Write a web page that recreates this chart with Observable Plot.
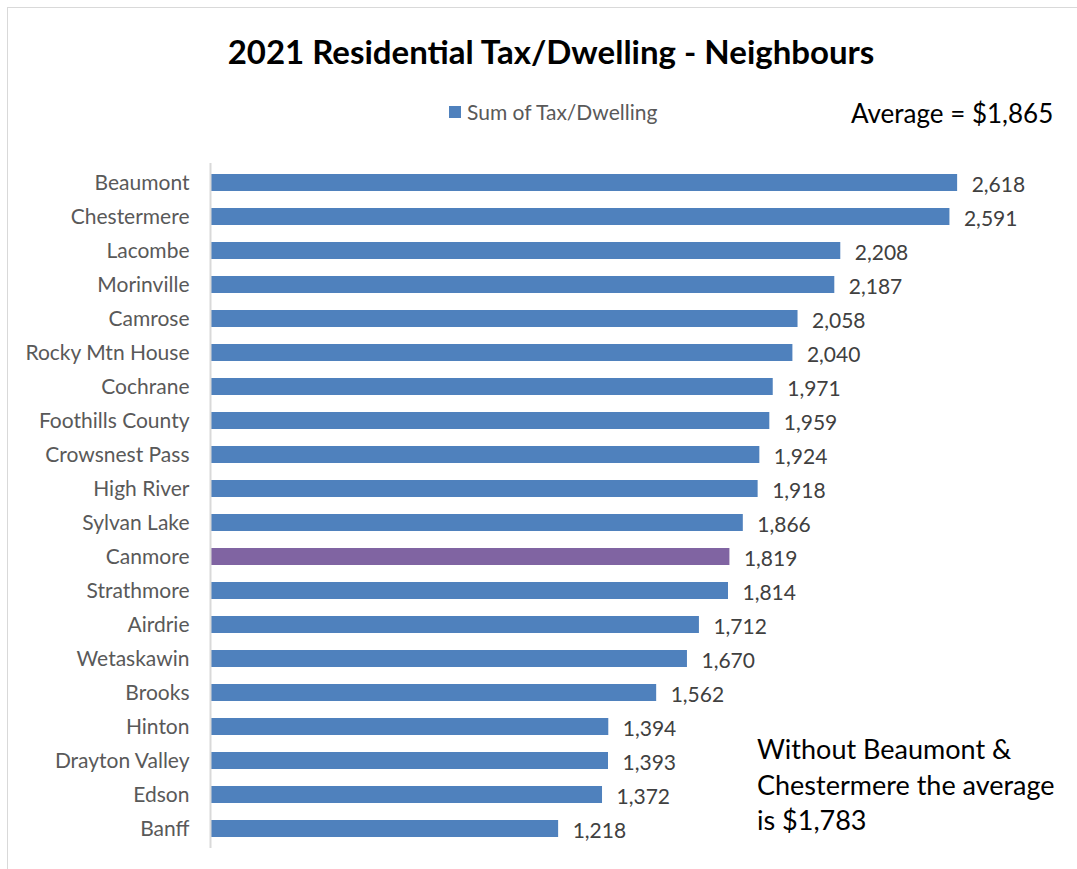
<!DOCTYPE html>
<html>
<head>
<meta charset="utf-8">
<script src="https://cdn.jsdelivr.net/npm/d3@7"></script>
<script src="https://cdn.jsdelivr.net/npm/@observablehq/plot@0.6"></script>
<style>
  html, body { margin: 0; padding: 0; background: #fff; }
  #wrap { position: relative; width: 1077px; height: 869px; overflow: hidden; font-family: Lato, "Open Sans", sans-serif; }
  #frame { position: absolute; left: 7px; top: 7px; width: 1200px; height: 1000px; border-top: 1px solid #d9d9d9; border-left: 1px solid #d9d9d9; }
  #header { position: relative; height: 140px; }
  #title { position: absolute; left: 0; width: 1102px; top: 31px; text-align: center; font-weight: bold; font-size: 33px; color: #000; white-space: nowrap; }
  #legend { position: absolute; left: 449px; top: 99px; font-size: 21px; color: #595959; display: flex; align-items: center; white-space: nowrap; }
  #legend .sw { width: 12px; height: 12px; background: #4f81bd; margin-right: 6px; }
  #avg { position: absolute; left: 851px; top: 97px; font-size: 26px; color: #000; white-space: nowrap; }
  #note { position: absolute; left: 757px; top: 731px; font-size: 27px; line-height: 35.5px; color: #000; white-space: nowrap; }
  #chart { position: absolute; left: 0; top: 140px; }
</style>
</head>
<body>
<div id="wrap">
  <div id="frame"></div>
  <div id="header">
    <div id="title">2021 Residential Tax/Dwelling - Neighbours</div>
    <div id="legend"><span class="sw"></span><span>Sum of Tax/Dwelling</span></div>
    <div id="avg">Average = $1,865</div>
  </div>
  <div id="chart"></div>
  <div id="note">Without Beaumont &amp;<br>Chestermere the average<br>is $1,783</div>
</div>
<script>
const towns = ["Beaumont", "Chestermere", "Lacombe", "Morinville", "Camrose", "Rocky Mtn House", "Cochrane", "Foothills County", "Crowsnest Pass", "High River", "Sylvan Lake", "Canmore", "Strathmore", "Airdrie", "Wetaskawin", "Brooks", "Hinton", "Drayton Valley", "Edson", "Banff"];
const taxPerDwelling = [2618, 2591, 2208, 2187, 2058, 2040, 1971, 1959, 1924, 1918, 1866, 1819, 1814, 1712, 1670, 1562, 1394, 1393, 1372, 1218];
const highlighted = ["Canmore"];
const xMax = 3000;

const data = towns.map((t, i) => ({town: t, value: taxPerDwelling[i]}));

const plot = Plot.plot({
  width: 1077,
  height: 729,
  marginTop: 23,
  marginBottom: 21,
  marginLeft: 211,
  marginRight: 11,
  style: {fontFamily: "Lato, 'Open Sans', sans-serif", fontSize: "21px", background: "transparent"},
  x: {domain: [0, xMax], axis: null},
  y: {domain: towns, paddingInner: 0.5, paddingOuter: 0.25, label: null, axis: null},
  marks: [
    Plot.barX(data, {
      y: "town", x: "value",
      fill: d => highlighted.includes(d.town) ? "#8064a2" : "#4f81bd"
    }),
    Plot.ruleX([0], {stroke: "#d9d9d9", strokeWidth: 2, dx: -1}),
    Plot.text(data, {
      y: "town", x: "value", text: d => d3.format(",")(d.value),
      textAnchor: "start", dx: 14, dy: 2, fill: "#404040", fontSize: 21
    }),
    Plot.axisY({tickSize: 0, tickPadding: 22, label: null, color: "#595959", fontSize: 21})
  ]
});
document.getElementById("chart").appendChild(plot);
</script>
</body>
</html>
